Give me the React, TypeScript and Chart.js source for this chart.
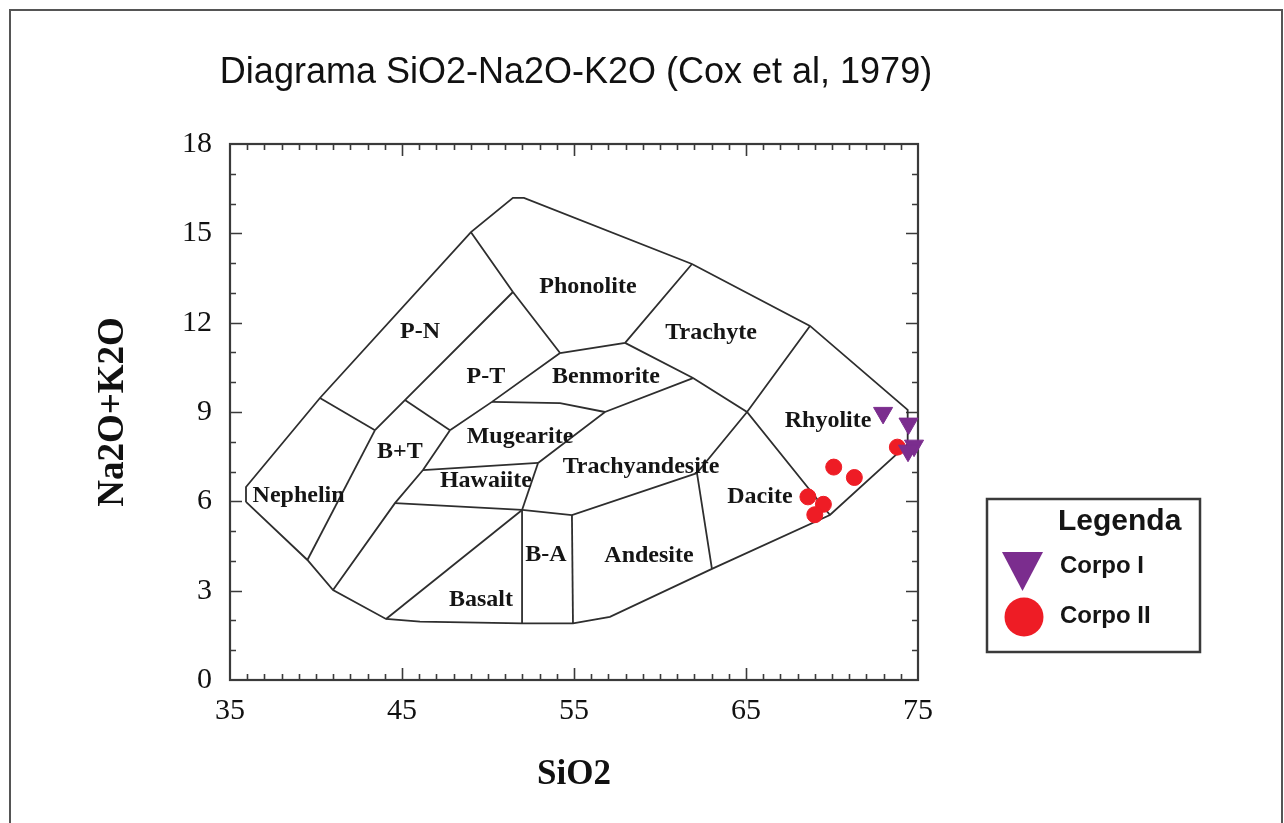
import React, { useEffect, useRef } from 'react';
import { Chart, registerables } from 'chart.js';

Chart.register(...registerables);

// Axis ranges and tick labels
const X_MIN = 35;
const X_MAX = 75;
const Y_MIN = 0;
const Y_MAX = 18;
const X_STEP = 10;
const Y_STEP = 3;

const TITLE = 'Diagrama SiO2-Na2O-K2O (Cox et al, 1979)';

// Sample data (SiO2, Na2O+K2O)
const corpoI_x = [72.97, 74.45, 74.77, 74.42];
const corpoI_y = [8.97, 8.61, 7.87, 7.7];
const corpoII_x = [73.8, 70.1, 71.3, 68.6, 69.5, 69.0];
const corpoII_y = [7.82, 7.15, 6.8, 6.15, 5.9, 5.55];

// Field boundaries of the TAS diagram (Cox et al, 1979)
const outerBoundary = [
  [35.93, 5.98], [39.5, 4.03], [40.99, 3.02], [44.07, 2.05], [46.05, 1.96],
  [51.98, 1.9], [54.94, 1.9], [57.09, 2.12], [63.02, 3.73], [69.88, 5.54],
  [74.4, 7.92], [74.4, 9.07], [68.72, 11.89], [61.86, 13.97], [52.09, 16.19],
  [51.45, 16.19], [49.01, 15.04], [40.23, 9.47], [35.93, 6.48], [35.93, 5.98],
];
const lineNephPN = [[40.23, 9.47], [43.43, 8.39]];
const linePNPT = [[51.45, 13.03], [45.17, 9.4], [43.43, 8.39]];
const linePNPhon = [[49.01, 15.04], [51.45, 13.03], [54.19, 10.98]];
const lineNephBT = [[43.43, 8.39], [39.5, 4.03]];
const linePTBT = [[45.17, 9.4], [47.79, 8.39]];
const lineBTRight = [[47.79, 8.39], [46.22, 7.05], [44.59, 5.94], [40.99, 3.02]];
const linePTMug = [[47.79, 8.39], [50.23, 9.34], [54.19, 10.98]];
const lineMugBen = [[50.23, 9.34], [54.19, 9.3], [56.8, 9.0]];
const lineHawMug = [[46.22, 7.05], [52.91, 7.29]];
const lineHawTra = [[52.91, 7.29], [51.98, 5.71]];
const lineMugTra = [[52.91, 7.29], [56.8, 9.0], [61.92, 10.14]];
const lineBenTop = [[54.19, 10.98], [57.97, 11.32], [61.86, 13.97]];
const lineBenTr = [[57.97, 11.32], [61.92, 10.14], [65.06, 9.0], [69.88, 5.54]];
const lineTrRhy = [[68.72, 11.89], [65.06, 9.0], [62.15, 6.95], [63.02, 3.73]];
const lineTraBottom = [[44.59, 5.94], [51.98, 5.71], [54.88, 5.54], [62.15, 6.95]];
const lineBAAnd = [[54.88, 5.54], [54.94, 1.9]];
const lineBasBA = [[51.98, 5.71], [51.98, 1.9]];
const lineBasDiag = [[51.98, 5.71], [44.07, 2.05]];

const boundaries = [
  outerBoundary, lineNephPN, linePNPT, linePNPhon, lineNephBT, linePTBT,
  lineBTRight, linePTMug, lineMugBen, lineHawMug, lineHawTra, lineMugTra,
  lineBenTop, lineBenTr, lineTrRhy, lineTraBottom, lineBAAnd, lineBasBA, lineBasDiag,
];

// Field names and their anchor positions (data units)
const fieldNames = [
  'Phonolite', 'P-N', 'Trachyte', 'P-T', 'Benmorite', 'Rhyolite', 'Mugearite',
  'B+T', 'Trachyandesite', 'Hawaiite', 'Nephelin', 'Dacite', 'B-A', 'Andesite', 'Basalt',
];
const fieldX = [55.81, 46.05, 62.97, 49.88, 56.86, 69.77, 51.86, 44.88, 58.9, 49.88, 38.99, 65.81, 53.37, 59.36, 49.59];
const fieldY = [13.2, 11.69, 11.65, 10.17, 10.17, 8.7, 8.18, 7.66, 7.15, 6.68, 6.19, 6.14, 4.2, 4.16, 2.69];

const seriesNames = ['Corpo I', 'Corpo II'];
const PURPLE = '#7B2D8E';
const RED = '#EE1C25';

const framePlugin = {
  id: 'framePlugin',
  beforeDatasetsDraw(chart: any) {
    const { ctx, chartArea: a, scales } = chart;
    const x = scales.x;
    const y = scales.y;
    ctx.save();
    ctx.strokeStyle = '#3a3a3a';
    ctx.lineWidth = 2.2;
    ctx.strokeRect(a.left, a.top, a.right - a.left, a.bottom - a.top);
    ctx.lineWidth = 1.6;
    ctx.beginPath();
    for (let v = X_MIN + 1; v < X_MAX; v++) {
      const px = Math.round(x.getPixelForValue(v)) + 0.5;
      const L = (v - X_MIN) % X_STEP === 0 ? 12 : 6;
      ctx.moveTo(px, a.bottom);
      ctx.lineTo(px, a.bottom - L);
      ctx.moveTo(px, a.top);
      ctx.lineTo(px, a.top + L);
    }
    for (let v = Y_MIN + 1; v < Y_MAX; v++) {
      const py = Math.round(y.getPixelForValue(v)) + 0.5;
      const L = v % Y_STEP === 0 ? 12 : 6;
      ctx.moveTo(a.left, py);
      ctx.lineTo(a.left + L, py);
      ctx.moveTo(a.right, py);
      ctx.lineTo(a.right - L, py);
    }
    ctx.stroke();
    ctx.restore();
  },
  afterDatasetsDraw(chart: any) {
    const { ctx, scales } = chart;
    const x = scales.x;
    const y = scales.y;
    ctx.save();
    ctx.font = 'bold 24px "Liberation Serif"';
    ctx.fillStyle = '#151515';
    ctx.textAlign = 'center';
    ctx.textBaseline = 'middle';
    for (let i = 0; i < fieldNames.length; i++) {
      ctx.fillText(fieldNames[i], x.getPixelForValue(fieldX[i]), y.getPixelForValue(fieldY[i]));
    }
    ctx.restore();
  },
  afterDraw(chart: any) {
    const { ctx, chartArea: a } = chart;
    ctx.save();
    // title
    ctx.fillStyle = '#111111';
    ctx.textAlign = 'center';
    ctx.textBaseline = 'middle';
    ctx.font = '36px "Liberation Sans"';
    ctx.fillText(TITLE, (a.left + a.right) / 2 + 2, a.top - 71);

    // legend
    const lx = a.right + 69;
    const ly = a.top + 355;
    const lw = 213;
    const lh = 153;
    ctx.fillStyle = '#ffffff';
    ctx.fillRect(lx, ly, lw, lh);
    ctx.strokeStyle = '#3a3a3a';
    ctx.lineWidth = 2.5;
    ctx.strokeRect(lx, ly, lw, lh);
    ctx.fillStyle = '#151515';
    ctx.textAlign = 'left';
    ctx.textBaseline = 'middle';
    ctx.font = 'bold 30px "Liberation Sans"';
    ctx.fillText('Legenda', lx + 71, ly + 23);
    ctx.font = 'bold 24px "Liberation Sans"';
    ctx.fillText(seriesNames[0], lx + 73, ly + 67);
    ctx.fillText(seriesNames[1], lx + 73, ly + 117);
    // triangle marker
    ctx.fillStyle = PURPLE;
    ctx.beginPath();
    ctx.moveTo(lx + 15, ly + 53);
    ctx.lineTo(lx + 56, ly + 53);
    ctx.lineTo(lx + 35.5, ly + 92);
    ctx.closePath();
    ctx.fill();
    // circle marker
    ctx.fillStyle = RED;
    ctx.beginPath();
    ctx.arc(lx + 37, ly + 118, 19.5, 0, Math.PI * 2);
    ctx.fill();
    ctx.restore();
  },
};

export default function App() {
  const ref = useRef<HTMLCanvasElement>(null);

  useEffect(() => {
    if (!ref.current) return;
    const serif = '"Liberation Serif", "Times New Roman", serif';
    const datasets: any[] = [
      {
        label: seriesNames[0],
        data: corpoI_x.map((v, i) => ({ x: v, y: corpoI_y[i] })),
        pointStyle: 'triangle',
        rotation: 180,
        pointRadius: 11,
        backgroundColor: PURPLE,
        borderColor: PURPLE,
        borderWidth: 1,
        clip: false,
      },
      {
        label: seriesNames[1],
        data: corpoII_x.map((v, i) => ({ x: v, y: corpoII_y[i] })),
        pointStyle: 'circle',
        pointRadius: 8,
        backgroundColor: RED,
        borderColor: RED,
        borderWidth: 1,
        clip: false,
      },
      ...boundaries.map((b, i) => ({
        label: 'b' + i,
        data: b.map((p) => ({ x: p[0], y: p[1] })),
        showLine: true,
        pointRadius: 0,
        borderColor: '#2e2e2e',
        borderWidth: 1.8,
        fill: false,
        tension: 0,
      })),
    ];

    const chart = new Chart(ref.current, {
      type: 'scatter',
      data: { datasets },
      options: {
        responsive: false,
        animation: false,
        events: [],
        layout: { padding: { left: 0, right: 366, top: 144, bottom: 0 } },
        plugins: {
          legend: { display: false },
          tooltip: { enabled: false },
          title: { display: false },
        },
        scales: {
          x: {
            type: 'linear',
            min: X_MIN,
            max: X_MAX,
            ticks: {
              stepSize: X_STEP,
              color: '#111111',
              padding: 13,
              font: { family: serif, size: 30 },
            },
            grid: { display: false, drawTicks: false },
            border: { display: false },
            title: {
              display: true,
              text: 'SiO2',
              color: '#111111',
              font: { family: serif, size: 35, weight: 'bold' },
              padding: { top: 0, bottom: 27 },
            },
            afterFit: (s: any) => {
              s.height = 143;
            },
          },
          y: {
            type: 'linear',
            min: Y_MIN,
            max: Y_MAX,
            ticks: {
              stepSize: Y_STEP,
              color: '#111111',
              padding: 18,
              font: { family: serif, size: 30 },
            },
            grid: { display: false, drawTicks: false },
            border: { display: false },
            title: {
              display: true,
              text: 'Na2O+K2O',
              color: '#111111',
              font: { family: serif, size: 37, weight: 'bold' },
              padding: { top: 91, bottom: 0 },
            },
            afterFit: (s: any) => {
              s.width = 230;
            },
          },
        },
      } as any,
      plugins: [framePlugin],
    });
    return () => chart.destroy();
  }, []);

  return (
    <div style={{ position: 'absolute', left: 0, top: 0, width: 1284, height: 823, background: '#fff', overflow: 'hidden' }}>
      <canvas ref={ref} width={1284} height={823} style={{ display: 'block', width: 1284, height: 823 }} />
      <div
        style={{
          position: 'absolute',
          left: 9,
          top: 9,
          width: 1270,
          height: 830,
          borderTop: '2px solid #555',
          borderLeft: '2px solid #555',
          borderRight: '2px solid #555',
          pointerEvents: 'none',
        }}
      />
    </div>
  );
}
